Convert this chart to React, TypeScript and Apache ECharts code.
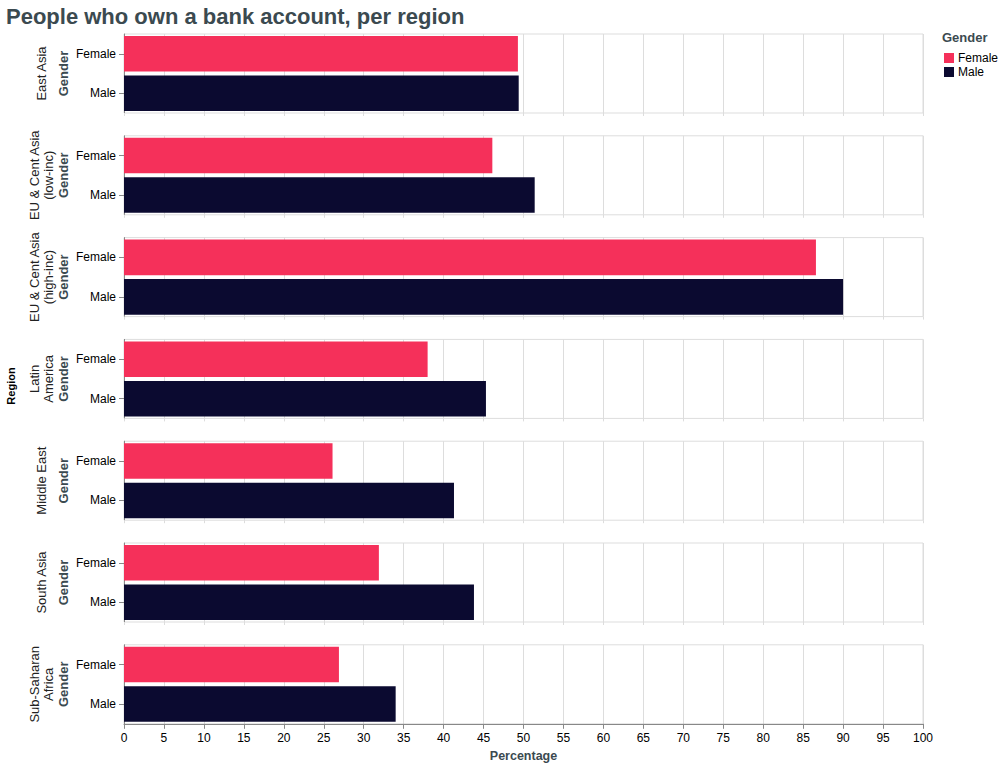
import React, { useEffect, useRef } from "react";
import * as echarts from "echarts";

const regions: string[] = [
  "East Asia",
  "EU & Cent Asia\n(low-inc)",
  "EU & Cent Asia\n(high-inc)",
  "Latin\nAmerica",
  "Middle East",
  "South Asia",
  "Sub-Saharan\nAfrica",
];
const genders: string[] = ["Female", "Male"];
const femaleValues: number[] = [49.3, 46.1, 86.6, 38.0, 26.1, 31.9, 26.9];
const maleValues: number[] = [49.4, 51.4, 90.0, 45.3, 41.3, 43.8, 34.0];
const xTicks = { min: 0, max: 100, interval: 5 };

const FEMALE_COLOR = "#f5305a";
const MALE_COLOR = "#0b0a30";
const SLATE = "#3b4a50";
const FONT = "'Liberation Sans', Arial, Helvetica, sans-serif";

export default function App() {
  const ref = useRef<HTMLDivElement>(null);
  useEffect(() => {
    if (!ref.current) return;
    const chart = echarts.init(ref.current, undefined, { renderer: "svg" });
    const n = regions.length;
    const top0 = 34;
    const step = 101.8;
    const h = 79;
    const grids: any[] = [];
    const xAxes: any[] = [];
    const yAxes: any[] = [];
    const series: any[] = [];
    const graphics: any[] = [];
    for (let i = 0; i < n; i++) {
      const top = top0 + i * step;
      const last = i === n - 1;
      grids.push({
        left: 124,
        right: 81,
        top,
        height: h,
        show: true,
        borderColor: "#dddddd",
        borderWidth: 1,
        containLabel: false,
      });
      xAxes.push({
        type: "value",
        gridIndex: i,
        min: xTicks.min,
        max: xTicks.max,
        interval: xTicks.interval,
        axisLine: { show: last, lineStyle: { color: "#888888" } },
        axisTick: { show: true, length: last ? 5 : 3, lineStyle: { color: last ? "#888888" : "#dddddd" } },
        axisLabel: { show: last, color: "#000", fontSize: 12, fontFamily: FONT, margin: 8 },
        splitLine: { show: true, lineStyle: { color: "#dddddd" } },
        name: last ? "Percentage" : "",
        nameLocation: "middle",
        nameGap: 26,
        nameMoveOverlap: false,
        nameTextStyle: { fontWeight: "bold", fontSize: 12.5, color: SLATE, fontFamily: FONT },
      });
      yAxes.push({
        type: "category",
        gridIndex: i,
        data: genders,
        inverse: true,
        axisLine: { show: true, lineStyle: { color: "#888888" } },
        axisTick: { show: true, length: 5, alignWithLabel: true, lineStyle: { color: "#888888" } },
        axisLabel: { color: "#000", fontSize: 12, fontFamily: FONT, margin: 8 },
        name: "Gender",
        nameLocation: "middle",
        nameGap: 54,
        nameMoveOverlap: false,
        nameTextStyle: { fontWeight: "bold", fontSize: 13, color: SLATE, fontFamily: FONT },
      });
      series.push({
        name: "Female",
        type: "bar",
        xAxisIndex: i,
        yAxisIndex: i,
        stack: "p" + i,
        barCategoryGap: "10%",
        itemStyle: { color: FEMALE_COLOR },
        data: [femaleValues[i], "-"],
      });
      series.push({
        name: "Male",
        type: "bar",
        xAxisIndex: i,
        yAxisIndex: i,
        stack: "p" + i,
        barCategoryGap: "10%",
        itemStyle: { color: MALE_COLOR },
        data: ["-", maleValues[i]],
      });
      graphics.push({
        type: "text",
        x: 41,
        y: top + h / 2,
        rotation: Math.PI / 2,
        style: {
          text: regions[i],
          fill: "#222",
          font: `300 13px ${FONT}`,
          textAlign: "center",
          textVerticalAlign: "middle",
          lineHeight: 14,
        },
      });
    }
    graphics.push({
      type: "text",
      x: 11,
      y: 386,
      rotation: Math.PI / 2,
      style: {
        text: "Region",
        fill: "#000",
        font: `bold 11px ${FONT}`,
        textAlign: "center",
        textVerticalAlign: "middle",
      },
    });
    graphics.push({
      type: "text",
      left: 942,
      top: 31,
      style: {
        text: "Gender",
        fill: SLATE,
        font: `bold 13px ${FONT}`,
      },
    });

    chart.setOption({
      animation: false,
      title: {
        text: "People who own a bank account, per region",
        left: 1,
        top: 0,
        textStyle: { fontSize: 22, fontWeight: "bold", color: SLATE, fontFamily: FONT },
      },
      legend: {
        data: genders,
        orient: "vertical",
        left: 939,
        top: 47,
        icon: "rect",
        itemWidth: 10,
        itemHeight: 10,
        itemGap: 2,
        textStyle: { fontSize: 12, color: "#000", fontFamily: FONT, padding: [0, 0, 0, -1] },
        selectedMode: false,
      },
      grid: grids,
      xAxis: xAxes,
      yAxis: yAxes,
      series,
      graphic: graphics,
    });
    return () => chart.dispose();
  }, []);
  return (
    <div
      ref={ref}
      style={{ position: "absolute", left: 0, top: 0, width: 1004, height: 767, background: "#fff" }}
    />
  );
}
